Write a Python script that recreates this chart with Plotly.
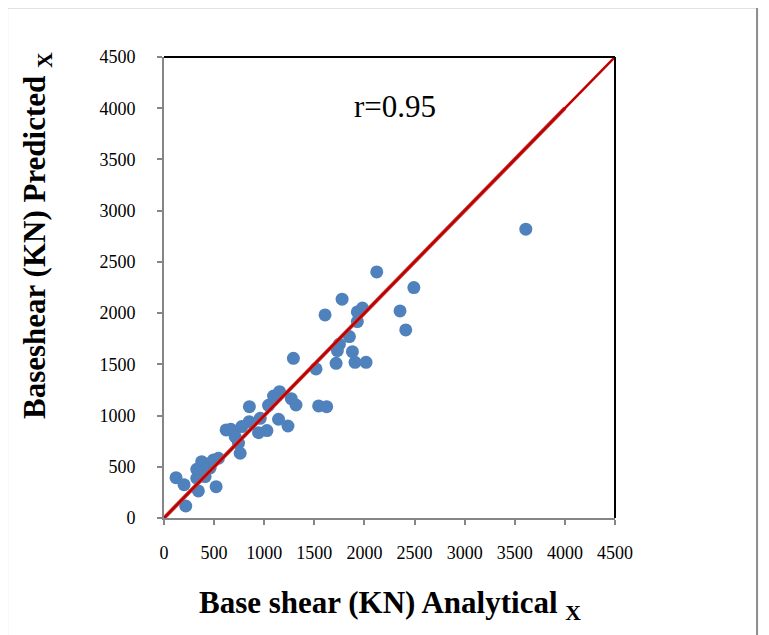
import plotly.graph_objects as go

# Data
analytical = [120, 200, 217, 327, 343, 327, 376, 410, 460, 493, 520, 543, 360, 470,
              620, 667, 710, 743, 760, 776, 852, 850, 943, 960, 1027, 1043, 1093,
              1153, 1143, 1237, 1270, 1317, 1291, 1517, 1543, 1623, 1607, 1717,
              1730, 1750, 1777, 1850, 1880, 1906, 1929, 1929, 1980, 2016, 2123,
              2355, 2412, 2493, 3610]
predicted = [394, 325, 117, 475, 264, 388, 550, 404, 488, 566, 306, 583, 440, 540,
             860, 866, 794, 730, 632, 892, 1087, 940, 833, 973, 853, 1100, 1191,
             1233, 964, 898, 1165, 1103, 1559, 1455, 1094, 1087, 1982, 1510,
             1634, 1697, 2136, 1771, 1624, 1520, 1917, 2012, 2050, 1520, 2402,
             2021, 1836, 2249, 2819]
trend_x = [0, 4000]
trend_y = [0, 4000]
ideal_x = [0, 4500]
ideal_y = [0, 4500]
ticks = [0, 500, 1000, 1500, 2000, 2500, 3000, 3500, 4000, 4500]
r_label = "r=0.95"

FONT = "Liberation Serif"

fig = go.Figure()
fig.add_trace(go.Scatter(x=analytical, y=predicted, mode="markers",
                         marker=dict(color="#4F81BD", size=13, line=dict(width=0)),
                         showlegend=False))
fig.add_trace(go.Scatter(x=trend_x, y=trend_y, mode="lines",
                         line=dict(color="#C0504D", width=4), showlegend=False))
fig.add_trace(go.Scatter(x=ideal_x, y=ideal_y, mode="lines",
                         line=dict(color="#C00000", width=2.5), showlegend=False))

axis_common = dict(range=[0, 4500], tickvals=ticks, ticktext=[str(t) for t in ticks],
                   showgrid=False, zeroline=False, showline=True, linecolor="#868686",
                   linewidth=2, ticks="outside", tickcolor="#868686", ticklen=5,
                   tickwidth=1.5, tickfont=dict(family=FONT, size=18, color="black"))

fig.update_layout(
    width=769, height=635,
    margin=dict(l=156, r=162, t=49, b=125),
    paper_bgcolor="white", plot_bgcolor="white",
    xaxis=dict(**axis_common, ticklabelstandoff=12),
    yaxis=dict(**axis_common, ticklabelstandoff=18),
    font=dict(family=FONT, color="black"),
    shapes=[
        dict(type="line", xref="x domain", yref="y domain", x0=0, x1=1, y0=1, y1=1,
             line=dict(color="black", width=2)),
        dict(type="line", xref="x domain", yref="y domain", x0=1, x1=1, y0=0, y1=1,
             line=dict(color="black", width=2)),
        dict(type="rect", xref="paper", yref="paper", x0=-0.348, x1=1.315,
             y0=-0.30, y1=1.108, line=dict(color="#8c8c8c", width=2)),
    ],
    annotations=[
        dict(text=r_label, x=2300, y=4013, xref="x", yref="y", showarrow=False,
             xanchor="center", yanchor="middle",
             font=dict(family=FONT, size=31, color="black")),
        dict(text="<b>Base shear (KN) Analytical <sub>X</sub></b>", x=0.501, y=-0.189,
             xref="paper", yref="paper", showarrow=False, xanchor="center", yanchor="middle",
             font=dict(family=FONT, size=31, color="black")),
        dict(text="<b>Baseshear (KN) Predicted <sub>X</sub></b>", x=-0.2816, y=0.614,
             xref="paper", yref="paper", showarrow=False, textangle=-90,
             xanchor="center", yanchor="middle",
             font=dict(family=FONT, size=31, color="black")),
    ],
)

fig.write_html("out.html")
